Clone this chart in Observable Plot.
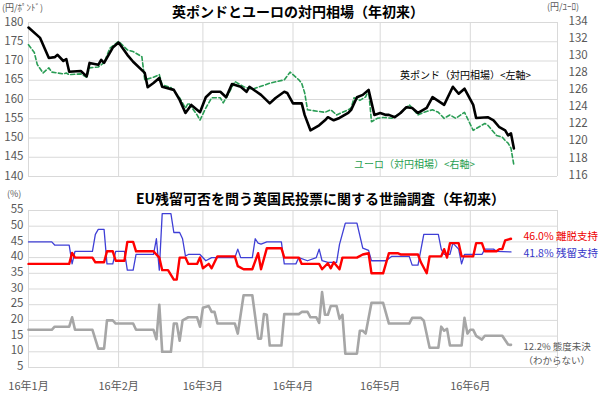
<!DOCTYPE html>
<html>
<head>
<meta charset="utf-8">
<script src="https://cdn.jsdelivr.net/npm/d3@7"></script>
<script src="https://cdn.jsdelivr.net/npm/@observablehq/plot@0.6"></script>
<style>
  html, body { margin: 0; padding: 0; background: #fff; }
  #wrap { position: relative; width: 600px; height: 398px; overflow: hidden; font-family: 'Noto Sans CJK JP', 'Noto Sans', sans-serif; }
  #topChart, #bottomChart { position: absolute; left: 0; }
  #topChart { top: 0; }
  #bottomChart { top: 190px; }
  .lbl { position: absolute; white-space: nowrap; line-height: 1; }
  .title { font-weight: 700; font-size: 14px; color: #000; }
  .unit { font-size: 9px; color: #595959; }
  .ann { font-size: 10px; }
</style>
</head>
<body>
<div id="wrap">
  <div id="topChart"></div>
  <div id="bottomChart"></div>
  <div class="lbl title" id="t1" style="left:172px; top:4px;"></div>
  <div class="lbl title" id="t2" style="left:136px; top:191px;"></div>
  <div class="lbl unit" id="u1" style="left:2px; top:3px;"></div>
  <div class="lbl unit" id="u2" style="left:547px; top:2px;"></div>
  <div class="lbl unit" id="u3" style="left:7px; top:189px;"></div>
  <div class="lbl ann" id="a1" style="left:400px; top:70px; color:#000;"></div>
  <div class="lbl ann" id="a2" style="left:354px; top:159px; color:#1f9e4f;"></div>
</div>
<script>
// ---------- texts ----------
const titleTop = "英ポンドとユーロの対円相場（年初来）";
const titleBottom = "EU残留可否を問う英国民投票に関する世論調査（年初来）";
const unitLeft = "(円/ﾎﾟﾝﾄﾞ)";
const unitRight = "(円/ﾕｰﾛ)";
const unitPct = "(%)";
const gbpLabel = "英ポンド（対円相場）<左軸>";
const eurLabel = "ユーロ（対円相場）<右軸>";
const leaveName = "離脱支持";
const remainName = "残留支持";
const undecidedName = "態度未決\n（わからない）";

// ---------- ticks ----------
const gbpTicks = [140, 145, 150, 155, 160, 165, 170, 175, 180];
const eurTicks = [116, 118, 120, 122, 124, 126, 128, 130, 132, 134];
const pollTicks = [5, 10, 15, 20, 25, 30, 35, 40, 45, 50, 55];
const monthTicks = ["2016-01-01", "2016-02-01", "2016-03-01", "2016-04-01", "2016-05-01", "2016-06-01", "2016-07-01"];
const monthLabels = ["16年1月", "16年2月", "16年3月", "16年4月", "16年5月", "16年6月", ""];

// ---------- GBP/JPY ----------
const gbpDates = ["2016-01-01","2016-01-05","2016-01-08","2016-01-10","2016-01-11","2016-01-13","2016-01-14","2016-01-15","2016-01-19","2016-01-21","2016-01-22","2016-01-25","2016-01-26","2016-01-27","2016-01-30","2016-02-01","2016-02-04","2016-02-06","2016-02-10","2016-02-11","2016-02-13","2016-02-15","2016-02-16","2016-02-20","2016-02-22","2016-02-24","2016-02-26","2016-02-29","2016-03-02","2016-03-04","2016-03-07","2016-03-09","2016-03-11","2016-03-14","2016-03-16","2016-03-17","2016-03-21","2016-03-24","2016-03-26","2016-03-29","2016-03-30","2016-04-01","2016-04-04","2016-04-05","2016-04-07","2016-04-10","2016-04-12","2016-04-13","2016-04-15","2016-04-17","2016-04-20","2016-04-21","2016-04-23","2016-04-25","2016-04-27","2016-04-29","2016-05-01","2016-05-03","2016-05-04","2016-05-06","2016-05-08","2016-05-10","2016-05-12","2016-05-14","2016-05-17","2016-05-19","2016-05-23","2016-05-26","2016-05-28","2016-05-30","2016-06-02","2016-06-03","2016-06-07","2016-06-09","2016-06-11","2016-06-13","2016-06-14","2016-06-15","2016-06-16"];
const gbpValues = [178.7,176.0,170.8,171.0,171.6,170.0,170.5,167.2,167.4,166.0,169.5,169.0,170.3,169.5,173.5,174.8,171.6,169.8,166.9,163.2,164.3,165.6,163.3,162.5,159.9,156.5,158.6,156.7,160.6,162.0,162.0,160.6,164.0,163.3,162.0,163.3,161.2,159.0,160.4,162.0,161.7,159.0,159.0,156.0,152.0,153.3,154.6,155.4,154.6,155.2,156.5,157.3,160.6,161.2,162.5,156.0,156.5,156.0,156.0,155.4,156.5,158.0,157.8,156.5,157.8,160.6,158.6,163.3,161.5,162.8,158.6,155.2,155.4,154.6,152.8,152.0,150.7,151.2,147.3];

// ---------- EUR/JPY ----------
const eurDates = ["2016-01-01","2016-01-03","2016-01-04","2016-01-06","2016-01-08","2016-01-09","2016-01-13","2016-01-14","2016-01-15","2016-01-19","2016-01-21","2016-01-22","2016-01-25","2016-01-27","2016-01-29","2016-02-01","2016-02-04","2016-02-06","2016-02-09","2016-02-10","2016-02-13","2016-02-15","2016-02-16","2016-02-19","2016-02-22","2016-02-24","2016-02-25","2016-02-28","2016-02-29","2016-03-02","2016-03-04","2016-03-07","2016-03-08","2016-03-10","2016-03-12","2016-03-15","2016-03-18","2016-03-24","2016-03-29","2016-03-31","2016-04-03","2016-04-04","2016-04-05","2016-04-06","2016-04-12","2016-04-14","2016-04-16","2016-04-20","2016-04-21","2016-04-22","2016-04-24","2016-04-26","2016-04-27","2016-04-28","2016-04-30","2016-05-02","2016-05-05","2016-05-07","2016-05-10","2016-05-11","2016-05-12","2016-05-14","2016-05-16","2016-05-19","2016-05-21","2016-05-23","2016-05-25","2016-05-27","2016-05-30","2016-06-02","2016-06-03","2016-06-06","2016-06-07","2016-06-10","2016-06-12","2016-06-13","2016-06-14","2016-06-15","2016-06-16"];
const eurValues = [131.4,130.5,129.1,128.1,128.7,128.2,128.0,128.1,127.9,128.0,127.6,128.7,128.8,129.3,131.0,131.8,130.8,130.6,130.0,127.3,127.6,127.9,126.7,126.4,125.2,124.0,124.6,123.2,122.6,124.0,125.2,125.2,124.6,125.8,127.1,126.5,126.2,126.9,127.3,128.2,127.3,126.9,125.8,123.8,123.5,123.8,123.2,123.8,124.0,125.2,124.9,125.3,126.1,122.4,122.8,122.9,122.8,123.2,124.0,124.4,124.0,123.2,123.5,123.8,123.5,122.8,123.2,122.8,123.5,121.4,121.6,122.2,122.0,120.8,120.6,120.2,119.9,119.3,117.3];

// ---------- Polls (%) ----------
const leaveDates = ["2016-01-01","2016-01-15","2016-01-16","2016-01-17","2016-01-23","2016-01-24","2016-01-27","2016-01-28","2016-01-30","2016-01-31","2016-02-03","2016-02-04","2016-02-06","2016-02-07","2016-02-13","2016-02-15","2016-02-16","2016-02-18","2016-02-20","2016-02-21","2016-02-22","2016-02-24","2016-02-25","2016-02-28","2016-02-29","2016-03-01","2016-03-03","2016-03-04","2016-03-06","2016-03-12","2016-03-13","2016-03-15","2016-03-18","2016-03-20","2016-03-21","2016-03-23","2016-03-28","2016-03-29","2016-04-03","2016-04-04","2016-04-10","2016-04-11","2016-04-13","2016-04-14","2016-04-15","2016-04-17","2016-04-18","2016-04-23","2016-04-25","2016-04-27","2016-04-28","2016-05-02","2016-05-04","2016-05-07","2016-05-08","2016-05-14","2016-05-15","2016-05-17","2016-05-18","2016-05-22","2016-05-23","2016-05-24","2016-05-25","2016-05-28","2016-05-29","2016-06-02","2016-06-03","2016-06-05","2016-06-06","2016-06-10","2016-06-11","2016-06-12","2016-06-13","2016-06-15"];
const leaveValues = [38,38,41.5,40,40,38.5,38.5,42,42,39,39,45,45,42,42,40,36,36,33,33,40,40,38,38,40,36.6,38,36.6,40.4,40.4,37.3,36.3,36.3,41.4,36.3,43,43,40,40,38,38,36.3,38.2,36.6,38.5,36.3,40,40,41,41.4,35,35,41.4,41.4,41,41,38.5,35,40.4,40.4,42.7,40,44.6,44.6,40.4,40.4,44.6,44.6,42,42,42.7,42.7,45.5,46.0];

const remainDates = ["2016-01-01","2016-01-09","2016-01-10","2016-01-15","2016-01-16","2016-01-17","2016-01-23","2016-01-24","2016-01-25","2016-01-27","2016-01-28","2016-01-30","2016-01-31","2016-02-03","2016-02-04","2016-02-06","2016-02-07","2016-02-13","2016-02-14","2016-02-15","2016-02-16","2016-02-19","2016-02-20","2016-02-22","2016-02-23","2016-02-24","2016-02-25","2016-02-29","2016-03-02","2016-03-04","2016-03-12","2016-03-13","2016-03-14","2016-03-18","2016-03-19","2016-03-20","2016-03-21","2016-03-23","2016-03-28","2016-03-29","2016-04-02","2016-04-03","2016-04-06","2016-04-09","2016-04-10","2016-04-11","2016-04-13","2016-04-16","2016-04-17","2016-04-19","2016-04-23","2016-04-25","2016-04-27","2016-04-28","2016-05-03","2016-05-05","2016-05-11","2016-05-12","2016-05-14","2016-05-16","2016-05-21","2016-05-22","2016-05-23","2016-05-25","2016-05-26","2016-05-28","2016-05-29","2016-05-30","2016-06-05","2016-06-06","2016-06-09","2016-06-10","2016-06-15"];
const remainValues = [45,45,44,44,38,42,42,47.4,49,49,38,38,42,42,36,36,41,41,46,36,54,54,48,48,46,40.5,41,41,39,40,40,42.7,40,40,46,44.6,44.3,45,45,38,38,40,39,40,42.7,39,38.5,38.5,44.2,51,51,43,42.3,39,39,40.4,40.4,37.6,37.6,47.4,47.4,42.7,41,41,44.6,42.7,38,41,41,42.7,42.7,42,41.8];

const undecidedDates = ["2016-01-01","2016-01-09","2016-01-10","2016-01-15","2016-01-16","2016-01-17","2016-01-23","2016-01-25","2016-01-27","2016-01-28","2016-01-30","2016-01-31","2016-02-06","2016-02-07","2016-02-13","2016-02-14","2016-02-15","2016-02-16","2016-02-19","2016-02-20","2016-02-21","2016-02-22","2016-02-23","2016-02-25","2016-02-28","2016-02-29","2016-03-01","2016-03-03","2016-03-04","2016-03-05","2016-03-06","2016-03-12","2016-03-13","2016-03-15","2016-03-18","2016-03-20","2016-03-21","2016-03-22","2016-03-23","2016-03-24","2016-03-28","2016-03-29","2016-04-03","2016-04-04","2016-04-06","2016-04-07","2016-04-09","2016-04-10","2016-04-11","2016-04-12","2016-04-13","2016-04-14","2016-04-16","2016-04-17","2016-04-18","2016-04-19","2016-04-23","2016-04-24","2016-04-25","2016-04-26","2016-04-28","2016-05-02","2016-05-04","2016-05-11","2016-05-12","2016-05-15","2016-05-16","2016-05-18","2016-05-21","2016-05-22","2016-05-23","2016-05-24","2016-05-25","2016-05-29","2016-05-30","2016-05-31","2016-06-01","2016-06-02","2016-06-03","2016-06-05","2016-06-06","2016-06-12","2016-06-14","2016-06-15"];
const undecidedValues = [17,17,18,18,21,17,17,11,11,20,20,19,19,17,17,14,25,10,10,19,19,13.5,20,21,21,18,24,24.6,22.7,22.7,19,19,15.8,28,28,14.2,14.2,22,21.8,12,12,22,22,22.7,22.7,21,21,19.2,29,21.8,21.8,24.6,24.6,20.5,21.8,9.4,9.4,16.7,16.7,15.8,25.6,25.6,19,19,20.8,20.8,19.9,11.3,11.3,18,16.7,17.3,12,12,20.8,15.8,17,17,15.1,13.9,15.1,15.1,12.3,12.2];

// ---------- build tables ----------
const toRows = (dates, values) => dates.map((d, i) => ({date: new Date(d), v: values[i]}));
const gbp = toRows(gbpDates, gbpValues);
const eur = toRows(eurDates, eurValues);
const leave = toRows(leaveDates, leaveValues);
const remain = toRows(remainDates, remainValues);
const undecided = toRows(undecidedDates, undecidedValues);
const months = monthTicks.map(d => new Date(d));
const xDomain = [months[0], months[months.length - 1]];

// dual axis mapping: EUR (116..134) onto GBP scale (140..180)
const eurMin = eurTicks[0], eurMax = eurTicks[eurTicks.length - 1];
const gbpMin = gbpTicks[0], gbpMax = gbpTicks[gbpTicks.length - 1];
const toLeft = e => gbpMin + (e - eurMin) * (gbpMax - gbpMin) / (eurMax - eurMin);
const fromLeft = p => eurMin + (p - gbpMin) * (eurMax - eurMin) / (gbpMax - gbpMin);

const FONT = "'Noto Sans CJK JP', 'Noto Sans', sans-serif";
const GRID = "#d9d9d9";

// ---------- top chart ----------
const fxChart = Plot.plot({
  width: 600, height: 190,
  marginLeft: 28, marginRight: 43, marginTop: 22, marginBottom: 14,
  style: {fontFamily: FONT, fontSize: "11.5px", color: "#595959", background: "transparent"},
  x: {type: "utc", domain: xDomain, axis: null},
  y: {domain: [gbpMin, gbpMax]},
  marks: [
    Plot.gridY(gbpTicks, {stroke: GRID, strokeOpacity: 1}),
    Plot.gridX(months, {stroke: GRID, strokeOpacity: 1}),
    Plot.axisY(gbpTicks, {anchor: "left", tickSize: 0, tickPadding: 5, dy: -0.5, label: null}),
    Plot.axisY(eurTicks.map(toLeft), {anchor: "right", tickSize: 0, tickPadding: 11, dy: -1.5, label: null,
      tickFormat: d => String(Math.round(fromLeft(d)))}),
    Plot.lineY(eur, {x: "date", y: d => toLeft(d.v), stroke: "#2a9d55", strokeWidth: 1.6, strokeDasharray: "4,2.5"}),
    Plot.lineY(gbp, {x: "date", y: "v", stroke: "#000", strokeWidth: 2.6})
  ]
});
document.getElementById("topChart").appendChild(fxChart);

// ---------- bottom chart ----------
const lastOf = arr => arr[arr.length - 1];
const leaveLabel = [{date: lastOf(leave).date, v: lastOf(leave).v, text: `${lastOf(leave).v.toFixed(1)}% ${leaveName}`}];
const remainLabel = [{date: lastOf(remain).date, v: lastOf(remain).v, text: `${lastOf(remain).v.toFixed(1)}% ${remainName}`}];
const undecidedLabel = [{date: lastOf(undecided).date, v: lastOf(undecided).v, text: `${lastOf(undecided).v.toFixed(1)}% ${undecidedName}`}];

const pollChart = Plot.plot({
  width: 600, height: 208,
  marginLeft: 28, marginRight: 43, marginTop: 20, marginBottom: 31,
  style: {fontFamily: FONT, fontSize: "11.5px", color: "#595959", background: "transparent"},
  x: {type: "utc", domain: xDomain},
  y: {domain: [pollTicks[0], pollTicks[pollTicks.length - 1]]},
  marks: [
    Plot.gridY(pollTicks, {stroke: GRID, strokeOpacity: 1}),
    Plot.gridX(months, {stroke: GRID, strokeOpacity: 1}),
    Plot.axisY(pollTicks, {anchor: "left", tickSize: 0, tickPadding: 5, dy: -1, label: null}),
    Plot.axisX(months.slice(0, 6), {anchor: "bottom", tickSize: 0, tickPadding: 15, label: null, fontSize: 11,
      tickFormat: d => monthLabels[months.findIndex(m => +m === +d)]}),
    Plot.lineY(undecided, {x: "date", y: "v", stroke: "#a6a6a6", strokeWidth: 2.6}),
    Plot.lineY(remain, {x: "date", y: "v", stroke: "#3f3fd6", strokeWidth: 1.3}),
    Plot.lineY(leave, {x: "date", y: "v", stroke: "#ff0000", strokeWidth: 2.4}),
    Plot.text(leaveLabel, {x: "date", y: "v", text: "text", fill: "#ee0000", dx: 12.5, dy: -2, textAnchor: "start", fontSize: 10.5}),
    Plot.text(remainLabel, {x: "date", y: "v", text: "text", fill: "#3535c8", dx: 12.5, dy: 1.5, textAnchor: "start", fontSize: 10.5}),
    Plot.text(undecidedLabel, {x: "date", y: "v", text: "text", fill: "#595959", dx: 12.5, dy: -4.5, textAnchor: "start", lineAnchor: "top", lineHeight: 1.45, fontSize: 9.5})
  ]
});
document.getElementById("bottomChart").appendChild(pollChart);

// ---------- html texts ----------
document.getElementById("t1").textContent = titleTop;
document.getElementById("t2").textContent = titleBottom;
document.getElementById("u1").textContent = unitLeft;
document.getElementById("u2").textContent = unitRight;
document.getElementById("u3").textContent = unitPct;
document.getElementById("a1").textContent = gbpLabel;
document.getElementById("a2").textContent = eurLabel;
</script>
</body>
</html>
